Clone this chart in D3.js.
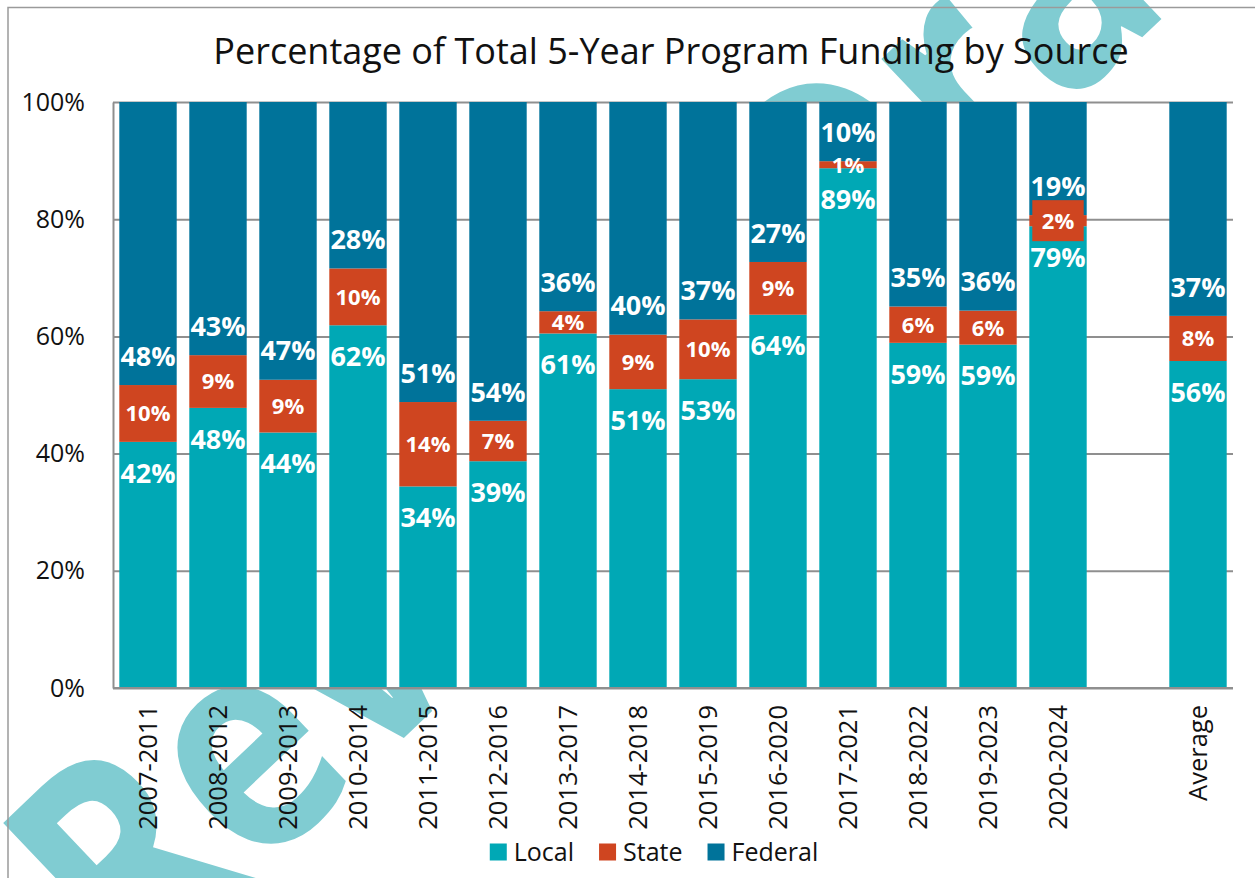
<!DOCTYPE html>
<html>
<head>
<meta charset="utf-8">
<title>Percentage of Total 5-Year Program Funding by Source</title>
<script src="https://cdn.jsdelivr.net/npm/d3@7"></script>
<style>
  body { margin: 0; background: #fff; }
  svg { display: block; font-family: 'Open Sans', sans-serif; }
</style>
</head>
<body>
<div class="chart"></div>
<script>
const periods = ['2007-2011', '2008-2012', '2009-2013', '2010-2014', '2011-2015', '2012-2016', '2013-2017',
    '2014-2018', '2015-2019', '2016-2020', '2017-2021', '2018-2022', '2019-2023', '2020-2024'];
const averageLabel = 'Average';
// empty slot between the last period and the average bar
const categories = [...periods, 'gap', averageLabel];

const local   = [42.0, 47.8, 43.6, 61.9, 34.4, 38.7, 60.5, 51.0, 52.7, 63.7, 88.7, 58.9, 58.6, 78.8, 55.8];
const state   = [ 9.7,  9.0,  9.0,  9.7, 14.4,  6.9,  3.8,  9.3, 10.2,  9.0,  1.2,  6.2,  5.8,  1.9,  7.7];
const federal = [48.3, 43.2, 47.4, 28.4, 51.2, 54.4, 35.7, 39.7, 37.1, 27.3, 10.1, 34.9, 35.6, 19.3, 36.5];

const seriesNames = ['Local', 'State', 'Federal'];
const yTicks = [0, 20, 40, 60, 80, 100];
const boxedStateLabels = ['2020-2024'];
const watermark = 'Review Draft';

const colors = { Local: '#00A8B5', State: '#CF4520', Federal: '#00739A' };
const gridColor = '#8f8f8f';

const width = 1255, height = 878;
const plot = { left: 113, right: 1233, top: 102, bottom: 688 };

const svg = d3.select('.chart')
    .append('svg')
    .attr('width', width)
    .attr('height', height);

svg.append('rect').attr('width', width).attr('height', height).attr('fill', '#fff');

// watermark sits behind everything, the plot area covers it
svg.append('text')
    .attr('transform', 'translate(134,994) rotate(-43.5) scale(0.85,1)')
    .attr('font-size', 300)
    .attr('font-weight', 700)
    .attr('fill', '#80CCD2')
    .text(watermark);

const rows = [...periods, averageLabel].map((cat, i) => ({
    cat, Local: local[i], State: state[i], Federal: federal[i]
}));

const x = d3.scaleBand()
    .domain(categories)
    .range([plot.left, plot.right])
    .paddingInner(0.18)
    .paddingOuter(0.09);

const y = d3.scaleLinear()
    .domain([0, 100])
    .range([plot.bottom, plot.top]);

svg.append('rect')
    .attr('x', plot.left).attr('y', plot.top)
    .attr('width', plot.right - plot.left)
    .attr('height', plot.bottom - plot.top)
    .attr('fill', '#fff');

// y axis + gridlines
const yAxis = svg.append('g')
    .attr('transform', `translate(${plot.left},0)`)
    .call(d3.axisLeft(y)
        .tickValues(yTicks)
        .tickSize(-(plot.right - plot.left))
        .tickSizeOuter(0)
        .tickPadding(28)
        .tickFormat(d => d + '%'));
yAxis.selectAll('line').attr('stroke', gridColor).attr('stroke-width', 2);
yAxis.select('.domain').attr('stroke', gridColor).attr('stroke-width', 2);
yAxis.selectAll('text')
    .attr('font-size', 25)
    .attr('fill', '#111')
    .attr('font-family', 'Open Sans');

// stacked bars
const stacked = d3.stack().keys(seriesNames)(rows);

const layers = svg.append('g')
    .selectAll('g')
    .data(stacked)
    .join('g')
    .attr('fill', s => colors[s.key]);

layers.selectAll('rect')
    .data(s => s)
    .join('rect')
    .attr('x', d => x(d.data.cat))
    .attr('y', d => y(d[1]))
    .attr('width', x.bandwidth())
    .attr('height', d => y(d[0]) - y(d[1]));

// x axis
const xAxis = svg.append('g')
    .attr('transform', `translate(0,${plot.bottom})`)
    .call(d3.axisBottom(x)
        .tickSize(0)
        .tickSizeOuter(0)
        .tickFormat(d => d === 'gap' ? '' : d));
xAxis.select('.domain').attr('stroke', gridColor).attr('stroke-width', 2)
    .attr('d', `M${plot.left},0H${plot.right}`);
xAxis.selectAll('text')
    .attr('transform', 'rotate(-90)')
    .attr('x', -17)
    .attr('y', 0)
    .attr('dy', '0.35em')
    .attr('text-anchor', 'end')
    .attr('font-size', 25.5)
    .attr('fill', '#111')
    .attr('font-family', 'Open Sans');

/**
 * label y position for a stacked segment
 */
function labelY(key, d) {
    if (key === 'Local') return y(d[1]) + 31;
    if (key === 'Federal') return y(d[0]) - 29;
    return (y(d[0]) + y(d[1])) / 2;
}

const labelLayer = svg.append('g');

stacked.forEach(s => {
    s.forEach(d => {
        const cx = x(d.data.cat) + x.bandwidth() / 2;
        const cy = labelY(s.key, d);
        const isState = s.key === 'State';
        if (isState && boxedStateLabels.includes(d.data.cat)) {
            labelLayer.append('rect')
                .attr('x', x(d.data.cat) + 3)
                .attr('y', cy - 20.5)
                .attr('width', x.bandwidth() - 6)
                .attr('height', 41)
                .attr('fill', colors.State);
        }
        labelLayer.append('text')
            .attr('x', cx)
            .attr('y', cy)
            .attr('dy', '0.36em')
            .attr('text-anchor', 'middle')
            .attr('font-size', isState ? 22 : 27)
            .attr('font-weight', 700)
            .attr('fill', '#fff')
            .text(Math.round(d.data[s.key]) + '%');
    });
});

// title
svg.append('text')
    .attr('x', 671)
    .attr('y', 64)
    .attr('text-anchor', 'middle')
    .attr('font-size', 36)
    .attr('fill', '#111')
    .text('Percentage of Total 5-Year Program Funding by Source');

// legend
const legend = svg.append('g');
let lx = 0;
seriesNames.forEach(name => {
    const item = legend.append('g').attr('transform', `translate(${lx},0)`);
    item.append('rect')
        .attr('x', 0).attr('y', -8.5)
        .attr('width', 17).attr('height', 17)
        .attr('fill', colors[name]);
    const t = item.append('text')
        .attr('x', 24)
        .attr('dy', '0.35em')
        .attr('font-size', 25)
        .attr('fill', '#111')
        .text(name);
    lx += 24 + t.node().getComputedTextLength() + 25;
});
const legendWidth = lx - 25;
legend.attr('transform', `translate(${654 - legendWidth / 2},852)`);

// chart frame (runs off the right and bottom edges)
svg.append('rect')
    .attr('x', 8).attr('y', 7.5)
    .attr('width', width + 50).attr('height', height + 50)
    .attr('fill', 'none')
    .attr('stroke', '#9a9a9a')
    .attr('stroke-width', 1.5);
</script>
</body>
</html>
